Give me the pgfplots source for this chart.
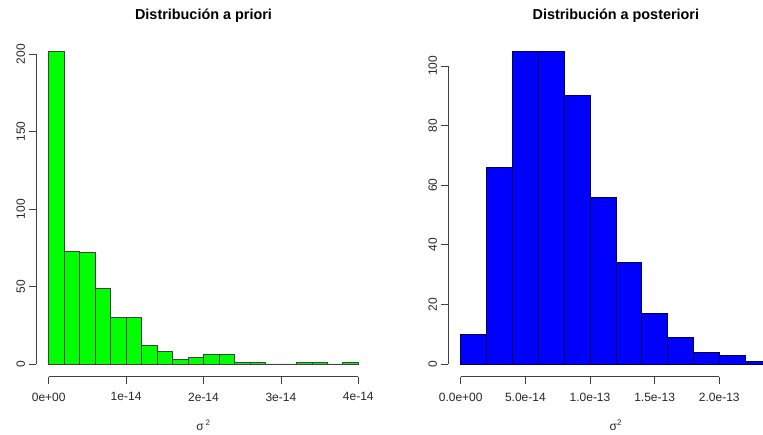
\documentclass[border=0pt]{standalone}
\usepackage{pgfplots}
\pgfplotsset{compat=1.18}
\usepackage{fontspec}
\setmainfont{Liberation Sans}
\begin{document}
\begin{tikzpicture}[x=1pt,y=1pt]
\useasboundingbox (0,0) rectangle (763,434);
\clip (0,0) rectangle (763,434);
\pgfplotsset{rstyle/.style={
  scale only axis, clip=false,
  axis x line*=bottom, axis y line*=left,
  axis line style={draw=none},
  tick align=outside, major tick length=7.2pt,
  tick style={black!75, line width=0.8pt},
  font=\fontsize{12}{14}\selectfont,
  /pgf/number format/assume math mode=true,
  yticklabel style={rotate=90, anchor=base, inner sep=0pt, text=black!85},
  xticklabel style={anchor=north, inner sep=0pt, text=black!85},
  yticklabel shift=4.3pt,
  xticklabel shift=8.8pt,
  title style={font=\bfseries\fontsize{14.4}{16}\selectfont, anchor=base, at={(axis description cs:0.5,1)}, yshift=13pt},
  xlabel style={anchor=base, at={(axis description cs:0.5,0)}, yshift=-53.5pt, text=black!85},
  height=338pt,
}}
\begin{axis}[rstyle, at={(36.3pt,57.5pt)}, anchor=south west, width=334.4pt,
  xmin=-1.6, xmax=41.6, ymin=-8.08, ymax=210.08,
  xtick={0,10,20,30,40}, xticklabels={0e+00,1e-14,2e-14,3e-14,4e-14},
  ytick={0,50,100,150,200},
  title={Distribución a priori}, xlabel={σ\,\textsuperscript{2}}]
\addplot[ybar interval, fill={rgb,1:red,0;green,1;blue,0}, draw=black!75, line width=0.7pt] coordinates {
(0,202) (2,73) (4,72) (6,49) (8,30) (10,30) (12,12) (14,8) (16,3) (18,4)
(20,6) (22,6) (24,1) (26,1) (28,0) (30,0) (32,1) (34,1) (36,0) (38,1) (40,0)};
\draw[black!75, line width=0.8pt] (axis cs:0,-8.08) -- (axis cs:40,-8.08);
\draw[black!75, line width=0.8pt] (axis cs:-1.6,0) -- (axis cs:-1.6,200);
\end{axis}
\begin{axis}[rstyle, at={(448.3pt,57.5pt)}, anchor=south west, width=335.1pt,
  xmin=-0.96, xmax=24.96, ymin=-4.2, ymax=109.2,
  xtick={0,5,10,15,20}, xticklabels={0.0e+00,5.0e-14,1.0e-13,1.5e-13,2.0e-13},
  ytick={0,20,40,60,80,100},
  title={Distribución a posteriori}, xlabel={σ\textsuperscript{2}}]
\addplot[ybar interval, fill={rgb,1:red,0;green,0;blue,1}, draw=black!70!blue, line width=0.7pt] coordinates {
(0,10) (2,66) (4,105) (6,105) (8,90) (10,56) (12,34) (14,17) (16,9) (18,4)
(20,3) (22,1) (24,0)};
\draw[black!75, line width=0.8pt] (axis cs:0,-4.2) -- (axis cs:20,-4.2);
\draw[black!75, line width=0.8pt] (axis cs:-0.96,0) -- (axis cs:-0.96,100);
\end{axis}
\end{tikzpicture}
\end{document}
